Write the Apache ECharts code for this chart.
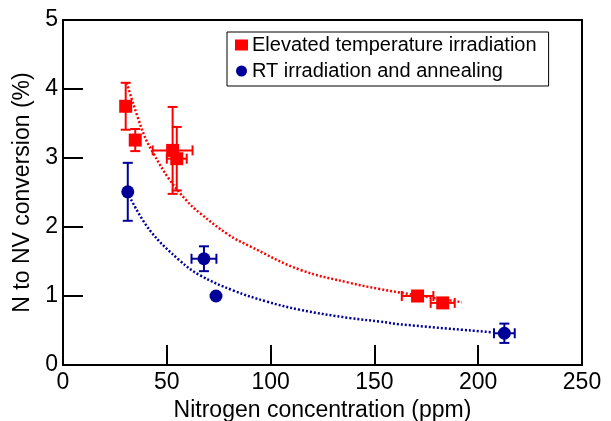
<!DOCTYPE html>
<html><head><meta charset="utf-8">
<script src="https://cdn.jsdelivr.net/npm/echarts@6/dist/echarts.min.js"></script>
<style>html,body{margin:0;padding:0;background:#fff}#c{width:611px;height:421px}</style>
</head><body><div id="c"></div>
<script>
// Elevated temperature irradiation
var redX = [30.2, 34.8, 52.8, 54.8, 170.8, 182.9];
var redY = [3.75, 3.26, 3.11, 2.99, 1.00, 0.90];
var redXErr = [0, 0, 9.6, 4.8, 7.6, 5.8];
var redYErr = [0.34, 0.16, 0.63, 0.46, 0, 0];
// RT irradiation and annealing
var blueX = [31.2, 67.9, 73.7, 212.6];
var blueY = [2.51, 1.54, 1.00, 0.46];
var blueXErr = [0, 6, 0, 5];
var blueYErr = [0.42, 0.18, 0, 0.14];
// fit curves
var redFitX = [30.7, 38.7, 43.5, 51, 59.6, 66, 79.6, 90.1, 114.2, 138.2, 152.7, 162.3, 192];
var redFitY = [4.09, 3.36, 3.07, 2.70, 2.38, 2.20, 1.89, 1.72, 1.38, 1.19, 1.10, 1.05, 0.91];
var blueFitX = [31.9, 41.9, 56.4, 66, 82, 98.1, 114.2, 138.2, 152.7, 162.3, 206.5];
var blueFitY = [2.45, 1.95, 1.51, 1.30, 1.08, 0.92, 0.80, 0.68, 0.63, 0.59, 0.475];
var xTicks = [0, 50, 100, 150, 200, 250];
var yTicks = [0, 1, 2, 3, 4, 5];
var names = ['Elevated temperature irradiation', 'RT irradiation and annealing'];

var RED = '#ff0000', BLUE = '#000099';
function zip(a, b) { return a.map(function (v, i) { return [v, b[i]]; }); }
function errData(x, y, xe, ye) { return x.map(function (v, i) { return [v, y[i], xe[i], ye[i]]; }); }
function errSeries(data, color) {
  return {
    type: 'custom', silent: true, z: 3,
    encode: { x: 0, y: 1 },
    data: data,
    renderItem: function (params, api) {
      var x = api.value(0), y = api.value(1), xe = api.value(2), ye = api.value(3);
      var ch = [], cap = 5;
      var st = { stroke: color, lineWidth: 2 };
      if (ye > 0) {
        var t = api.coord([x, y + ye]), b = api.coord([x, y - ye]);
        ch.push({ type: 'line', shape: { x1: t[0], y1: t[1], x2: b[0], y2: b[1] }, style: st });
        ch.push({ type: 'line', shape: { x1: t[0] - cap, y1: t[1], x2: t[0] + cap, y2: t[1] }, style: st });
        ch.push({ type: 'line', shape: { x1: b[0] - cap, y1: b[1], x2: b[0] + cap, y2: b[1] }, style: st });
      }
      if (xe > 0) {
        var l = api.coord([x - xe, y]), r = api.coord([x + xe, y]);
        ch.push({ type: 'line', shape: { x1: l[0], y1: l[1], x2: r[0], y2: r[1] }, style: st });
        ch.push({ type: 'line', shape: { x1: l[0], y1: l[1] - cap, x2: l[0], y2: l[1] + cap }, style: st });
        ch.push({ type: 'line', shape: { x1: r[0], y1: r[1] - cap, x2: r[0], y2: r[1] + cap }, style: st });
      }
      return { type: 'group', children: ch };
    }
  };
}
var font = 'Liberation Sans, Arial, sans-serif';
var chart = echarts.init(document.getElementById('c'), null, { renderer: 'canvas' });
chart.setOption({
  animation: false,
  backgroundColor: '#fff',
  grid: { left: 63, right: 29, top: 20, bottom: 56, outerBoundsMode: 'none', containLabel: false,
    show: true, borderColor: '#000', borderWidth: 2, backgroundColor: 'transparent' },
  xAxis: {
    type: 'value', min: xTicks[0], max: xTicks[xTicks.length - 1], interval: 50,
    name: 'Nitrogen concentration (ppm)', nameLocation: 'middle', nameGap: 28,
    nameTextStyle: { fontFamily: font, fontSize: 23, color: '#000' },
    axisLine: { lineStyle: { color: '#000', width: 2 } },
    axisTick: { inside: true, length: 20, lineStyle: { color: '#000', width: 2 } },
    axisLabel: { fontFamily: font, fontSize: 23, color: '#000', margin: 6 },
    splitLine: { show: false }
  },
  yAxis: {
    type: 'value', min: yTicks[0], max: yTicks[yTicks.length - 1], interval: 1,
    name: 'N to NV conversion (%)', nameLocation: 'middle', nameGap: 23, nameRotate: 90,
    nameTextStyle: { fontFamily: font, fontSize: 23, color: '#000' },
    axisLine: { lineStyle: { color: '#000', width: 2 } },
    axisTick: { inside: true, length: 20, lineStyle: { color: '#000', width: 2 } },
    axisLabel: { fontFamily: font, fontSize: 23, color: '#000', margin: 5 },
    splitLine: { show: false }
  },
  legend: {
    data: names, orient: 'vertical', left: 227, top: 32,
    backgroundColor: '#fff',
    borderColor: '#000', borderWidth: 1, padding: [3, 12, 5, 8],
    itemWidth: 13, itemHeight: 11, itemGap: 6,
    textStyle: { fontFamily: font, fontSize: 20, lineHeight: 20, color: '#000', padding: [0, 0, 0, -1] }
  },
  series: [
    { type: 'line', data: zip(redFitX, redFitY), smooth: 0.4, symbol: 'none', z: 2, silent: true,
      lineStyle: { color: RED, width: 2.5, type: [2, 2] } },
    { type: 'line', data: zip(blueFitX, blueFitY), smooth: 0.4, symbol: 'none', z: 2, silent: true,
      lineStyle: { color: BLUE, width: 2.5, type: [2, 2] } },
    errSeries(errData(redX, redY, redXErr, redYErr), RED),
    errSeries(errData(blueX, blueY, blueXErr, blueYErr), BLUE),
    { name: names[0], type: 'scatter', data: zip(redX, redY), symbol: 'rect', symbolSize: 13, z: 4,
      itemStyle: { color: RED, opacity: 1 } },
    { name: names[1], type: 'scatter', data: zip(blueX, blueY), symbol: 'circle', symbolSize: 13, z: 4,
      itemStyle: { color: BLUE, opacity: 1 } }
  ]
});
</script>
</body></html>
